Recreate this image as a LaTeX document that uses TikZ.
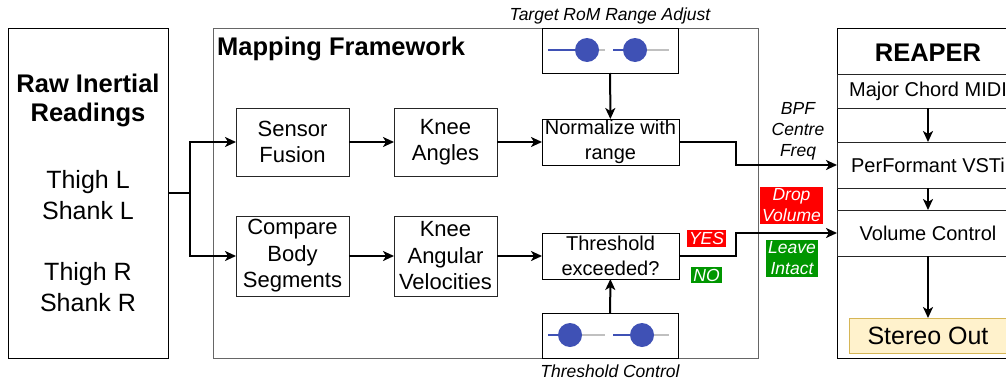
\documentclass[tikz,border=0pt]{standalone}
\usepackage{fontspec}
\setmainfont{Liberation Sans}
\usetikzlibrary{arrows.meta}

\definecolor{knobblue}{RGB}{63,81,181}
\definecolor{trackgray}{RGB}{192,192,192}
\definecolor{yesred}{RGB}{255,0,0}
\definecolor{nogreen}{RGB}{0,150,0}
\definecolor{outyellow}{RGB}{255,242,204}
\definecolor{outborder}{RGB}{214,182,86}

\begin{document}
\begin{tikzpicture}[x=1pt,y=-1pt,
    frame/.style ={draw=black!85, line width=1pt, inner sep=0pt, outer sep=0pt},
    block/.style ={frame, align=center, font=\fontsize{22}{26.5}\selectfont},
    smallblock/.style ={frame, align=center, font=\fontsize{20}{25}\selectfont},
    lane/.style ={frame, minimum width=182, align=center, font=\fontsize{20}{24}\selectfont},
    title/.style ={font=\fontsize{25.5}{29}\selectfont\bfseries, align=center},
    note/.style ={font=\fontsize{17.5}{21}\selectfont\itshape, align=center, inner sep=1pt},
    flag/.style ={note, text=white, inner sep=2pt},
    flow/.style ={line width=2pt, -{Stealth[length=11pt, width=10pt, inset=3pt]}},
    track/.style ={line width=1.6pt, trackgray},
    knob/.style ={fill=knobblue, draw=none}]
   \useasboundingbox (0,0) rectangle (1006,380);
   \clip (0,0) rectangle (1006,380);

   % raw readings
   \node[frame, draw=black, minimum width=160, minimum height=330] (raw) at (88,193) {};
   \node[title] (rawtitle) at (88,100) {Raw Inertial\\Readings};
   \node[align=center, font=\fontsize{25}{31}\selectfont] (left) at (88,195) {Thigh L\\Shank L};
   \node[align=center, font=\fontsize{25}{31}\selectfont] (right) at (88,287) {Thigh R\\Shank R};

   % mapping framework
   \node[frame, draw=black!60, minimum width=545, minimum height=330] (mapping) at (485.5,193) {};
   \node[title, anchor=base west, inner sep=0pt] (maptitle) at (217,55) {Mapping Framework};
   \node[block, minimum width=113, minimum height=68] (sensor) at (292.5,142) {Sensor\\Fusion};
   \node[block, minimum width=113, minimum height=80] (compare) at (292.5,256) {Compare\\Body\\Segments};
   \node[block, minimum width=103, minimum height=68] (angles) at (445.5,142) {Knee\\Angles};
   \node[block, minimum width=103, minimum height=80] (velocities) at (445.5,256) {Knee\\Angular\\Velocities};
   \node[smallblock, draw=black, minimum width=137, minimum height=46] (normalize) at (610.5,142) {Normalize with\\range};
   \node[smallblock, draw=black, minimum width=137, minimum height=46] (threshold) at (610.5,256) {Threshold\\exceeded?};

   % sliders
   \node[frame, draw=black, minimum width=136, minimum height=45] (rangebox) at (610,50.5) {};
   \node[frame, draw=black, minimum width=136, minimum height=45] (threshbox) at (610,335.5) {};
   \node[note] (rangelabel) at (610,16) {Target RoM Range Adjust};
   \node[note] (threshlabel) at (610,371) {Threshold Control};
   \draw[track] (548,50) -- (605,50);
   \draw[track] (613,50) -- (669,50);
   \draw[track] (548,335) -- (605,335);
   \draw[track] (613,335) -- (669,335);
   \draw[track, knobblue] (548,50) -- (587,50);
   \draw[track, knobblue] (613,50) -- (635,50);
   \draw[track, knobblue] (548,335) -- (570,335);
   \draw[track, knobblue] (613,335) -- (642,335);
   \fill[knob] (587,50) circle (12);
   \fill[knob] (635,50) circle (12);
   \fill[knob] (570,335) circle (12);
   \fill[knob] (642,335) circle (12);

   % reaper
   \node[frame, draw=black, minimum width=182, minimum height=330] (reaper) at (928,193) {};
   \node[title] (reapertitle) at (928,53) {REAPER};
   \node[lane, minimum height=34] (midi) at (928,91) {Major Chord MIDI};
   \node[lane, minimum height=46] (performant) at (928,165) {PerFormant VSTi};
   \node[lane, minimum height=46] (volume) at (928,233) {Volume Control};
   \node[frame, draw=outborder, fill=outyellow, minimum width=158, minimum height=35,
         font=\fontsize{25}{29}\selectfont] (stereo) at (928,335.5) {Stereo Out};

   % labels
   \node[note] (bpf) at (798,131) {BPF\\Centre\\Freq};
   \node[flag, fill=yesred] (drop) at (791.5,205.5) {Drop\\Volume};
   \node[flag, fill=nogreen] (leave) at (792,258.5) {Leave\\Intact};
   \node[flag, fill=yesred] (yes) at (706.5,238.5) {YES};
   \node[flag, fill=nogreen] (no) at (706.5,275) {NO};

   % connectors
   \coordinate (split) at (190,193);
   \coordinate (jogA) at (736,165);
   \coordinate (jogB) at (736,233);
   \draw[line width=2pt] (raw.east) -- (split);
   \draw[flow] (split) |- (sensor);
   \draw[flow] (split) |- (compare);
   \draw[flow] (sensor) -- (angles);
   \draw[flow] (angles) -- (normalize);
   \draw[flow] (compare) -- (velocities);
   \draw[flow] (velocities) -- (threshold);
   \draw[flow] (rangebox) -- (normalize);
   \draw[flow] (threshbox) -- (threshold);
   \draw[flow] (normalize) -| (jogA) -- (performant);
   \draw[flow] (threshold) -| (jogB) -- (volume);
   \draw[flow] (midi) -- (performant);
   \draw[flow] (performant) -- (volume);
   \draw[flow] (volume) -- (stereo);
 \end{tikzpicture}
\end{document}
